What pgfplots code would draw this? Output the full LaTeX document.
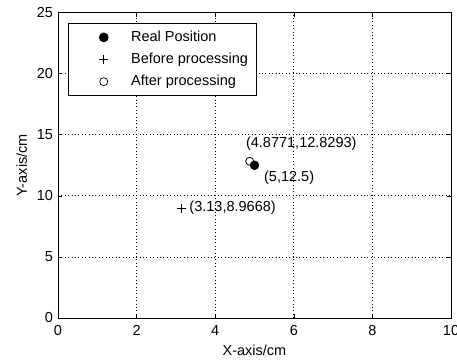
\documentclass[border=0pt]{standalone}
\usepackage{pgfplots}
\pgfplotsset{compat=1.18}
\usepackage{fontspec}
\setmainfont{Liberation Sans}
\begin{document}
\fontsize{14.5}{17}\selectfont
\begin{tikzpicture}
\path[use as bounding box] (-58pt,-44pt) rectangle (399pt,318pt);
\begin{axis}[
  scale only axis,
  width=393pt, height=305.5pt,
  xmin=0, xmax=10, ymin=0, ymax=25,
  xtick={0,2,4,6,8,10},
  ytick={0,5,10,15,20,25},
  /pgf/number format/assume math mode=true,
  tick align=inside,
  major tick length=4pt,
  tick style={black, line width=0.6pt},
  axis line style={black, line width=0.7pt},
  grid=major,
  major grid style={black, line width=0.8pt, dash pattern=on 0.8pt off 2.6pt},
  xticklabel style={yshift=-2pt},
  xlabel={X-axis/cm},
  ylabel={Y-axis/cm},
  legend cell align=left,
  legend style={
    at={(axis description cs:0,1)}, anchor=north west,
    xshift=10pt, yshift=-10.5pt,
    draw=black, line width=0.7pt,
    inner xsep=4pt, inner ysep=3pt,
    row sep=0pt, column sep=0pt,
    nodes={inner xsep=4pt, inner ysep=0pt, anchor=west},
  },
  legend image code/.code={
    \path (-31pt,-10.7pt) (23pt,10.7pt);
    \draw[#1, line width=0.7pt] plot coordinates {(0pt,0pt)};
  },
]
\addplot[only marks, mark=*, mark size=4.5pt, black] coordinates {(5,12.5)};
\addlegendentry{Real Position}
\addplot[only marks, mark=+, mark size=4.5pt, black, line width=0.7pt] coordinates {(3.13,8.9668)};
\addlegendentry{Before processing}
\addplot[only marks, mark=o, mark size=4pt, black, line width=0.8pt] coordinates {(4.8771,12.8293)};
\addlegendentry{After processing}
\node[anchor=west, inner sep=0pt] at (axis cs:4.78,14.24) {(4.8771,12.8293)};
\node[anchor=west, inner sep=0pt] at (axis cs:5.24,11.51) {(5,12.5)};
\node[anchor=west, inner sep=0pt] at (axis cs:3.34,9.0) {(3.13,8.9668)};
\end{axis}
\end{tikzpicture}
\end{document}
